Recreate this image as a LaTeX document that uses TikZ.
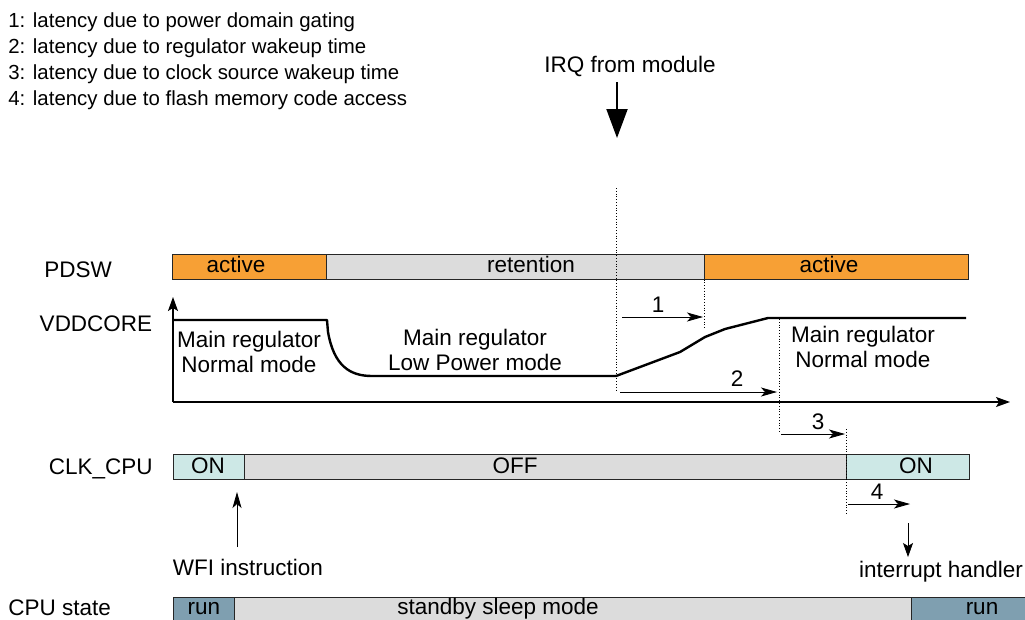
\documentclass[tikz,border=0pt]{standalone}
\usepackage{fontspec}
\setmainfont{Liberation Sans}
\usetikzlibrary{arrows.meta,positioning}

\definecolor{pdorange}{HTML}{F7A035}
\definecolor{offgray}{HTML}{DCDCDC}
\definecolor{oncyan}{HTML}{CDE8E6}
\definecolor{runblue}{HTML}{7F9FB0}

\begin{document}
\begin{tikzpicture}[x=1pt,y=-1pt,line width=0.8pt,
  txt/.style={font=\fontsize{22.5}{25}\selectfont,inner sep=0pt},
  legendline/.style={font=\fontsize{20.4}{26}\selectfont,inner sep=0pt,anchor=base west},
  seg/.style={draw=black!85,line width=0.9pt,outer sep=0pt,inner sep=0pt,minimum height=25pt},
  cpuseg/.style={seg,minimum height=26pt},
  segtext/.style={txt,anchor=base},
  lat/.style={-{Stealth[length=16pt,width=9pt,inset=4pt]},line width=0.8pt},
  guide/.style={dotted,line width=0.8pt},
  vcurve/.style={line width=2.4pt,line join=round},
  axisline/.style={-{Stealth[length=14pt,width=10pt,inset=3pt]},line width=1.3pt}]
  \useasboundingbox (0,0) rectangle (1025,619);
  \node[legendline] (leg1) at (8,27) {1: latency due to power domain gating};
  \node[legendline] (leg2) at (8,53) {2: latency due to regulator wakeup time};
  \node[legendline] (leg3) at (8,79) {3: latency due to clock source wakeup time};
  \node[legendline] (leg4) at (8,105) {4: latency due to flash memory code access};

  \node[txt,anchor=base] (irq) at (630,72) {IRQ from module};
  \coordinate (irqtop) at (617,82);
  \coordinate (irqtip) at (617,138);
  \draw[line width=2pt,-{Triangle[length=29pt,width=21pt]}] (irqtop) -- (irqtip);

  \node[txt,anchor=base] (pdswlbl) at (78,277) {PDSW};
  \node[txt,anchor=base] (vddlbl) at (96,331) {VDDCORE};
  \node[txt,anchor=base east] (clklbl) at (153,474) {CLK\_CPU};
  \node[txt,anchor=base west] (cpulbl) at (8,615) {CPU state};

  \node[seg,fill=pdorange,anchor=north west,minimum width=154pt] (pd1) at (172,254.5) {};
  \node[seg,fill=offgray,minimum width=378pt,right=0pt of pd1] (pd2) {};
  \node[seg,fill=pdorange,minimum width=264pt,right=0pt of pd2] (pd3) {};
  \node[segtext] (pd1t) at (236,272) {active};
  \node[segtext] (pd2t) at (531,272) {retention};
  \node[segtext] (pd3t) at (829,272) {active};

  \coordinate (org) at (173,402);
  \draw[axisline] (org) -- (173,297);
  \draw[axisline] (org) -- (1010,402);
  \coordinate (irqlow) at (616,376);
  \draw[vcurve] (173,320) -- (327,320) -- (328,332) .. controls (334,366) and (350,376) .. (372,376)
    -- (irqlow) -- (680,352) -- (705,337) -- (725,329) -- (768,318) -- (966,318);
  \node[txt,align=center] (mrn1) at (249,352) {Main regulator\\Normal mode};
  \node[txt,align=center] (mrlp) at (475,350) {Main regulator\\Low Power mode};
  \node[txt,align=center] (mrn2) at (863,347) {Main regulator\\Normal mode};

  \node[seg,fill=oncyan,anchor=north west,minimum width=71pt] (clk1) at (173,454) {};
  \node[seg,fill=offgray,minimum width=602pt,right=0pt of clk1] (clk2) {};
  \node[seg,fill=oncyan,minimum width=123pt,right=0pt of clk2] (clk3) {};
  \node[segtext] (clk1t) at (208,473) {ON};
  \node[segtext] (clk2t) at (515,473) {OFF};
  \node[segtext] (clk3t) at (916,473) {ON};

  \node[cpuseg,fill=runblue,anchor=north west,minimum width=61pt] (cpu1) at (173,597) {};
  \node[cpuseg,fill=offgray,minimum width=677pt,right=0pt of cpu1] (cpu2) {};
  \node[cpuseg,fill=runblue,minimum width=120pt,right=0pt of cpu2] (cpu3) {};
  \node[segtext] (cpu1t) at (204,614) {run};
  \node[segtext] (cpu2t) at (498,614) {standby sleep mode};
  \node[segtext] (cpu3t) at (982,614) {run};

  \draw[guide] (616,188) -- (616,391);
  \draw[guide] (pd2.south east) -- (704,328);
  \draw[guide] (779,319) -- (779,433);
  \draw[guide] (846,429) -- (846,514);

  \draw[lat] (622,317) -- (703,317);
  \node[txt,anchor=base] (n1) at (658,312) {1};
  \draw[lat] (620,392) -- (777,392);
  \node[txt,anchor=base] (n2) at (737,386) {2};
  \draw[lat] (781,434) -- (845,434);
  \node[txt,anchor=base] (n3) at (818,429) {3};
  \draw[lat] (848,504) -- (910,504);
  \node[txt,anchor=base] (n4) at (877,499) {4};

  \node[txt,anchor=base] (wfi) at (248,575) {WFI instruction};
  \coordinate (wfitip) at (237,492);
  \draw[lat] (237,547) -- (wfitip);
  \node[txt,anchor=base] (isr) at (941,577) {interrupt handler};
  \coordinate (isrtop) at (908,523);
  \draw[-{Stealth[length=14pt,width=10pt,inset=3pt]}] (isrtop) -- (908,557);
\end{tikzpicture}
\end{document}
